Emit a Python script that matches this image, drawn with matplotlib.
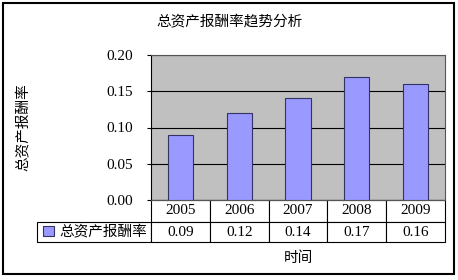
import matplotlib.pyplot as plt
from matplotlib.table import Table
from matplotlib.patches import Rectangle

# Datos del gráfico
anios = ['2005', '2006', '2007', '2008', '2009']
rentabilidad = [0.09, 0.12, 0.14, 0.17, 0.16]
ticks_y = [0.00, 0.05, 0.10, 0.15, 0.20]
serie = '总资产报酬率'
titulo = '总资产报酬率趋势分析'
eje_x = '时间'

cjk = ['Noto Sans CJK SC', 'DejaVu Sans']
num = ['Liberation Serif', 'DejaVu Serif']
fs = 10.5

fig = plt.figure(figsize=(4.58, 2.8), dpi=100)
fig.patch.set_facecolor('white')
ax = fig.add_axes([151 / 458, 1 - 200 / 280, 294 / 458, 145 / 280])
ax.set_facecolor('#C0C0C0')

x = range(len(anios))
ax.bar(x, rentabilidad, width=0.43, color='#9999FF', edgecolor='#333366',
       linewidth=0.8, zorder=3, label=serie)
ax.set_xlim(-0.5, len(anios) - 0.5)
ax.set_ylim(0, 0.20)
ax.set_yticks(ticks_y)
ax.set_yticklabels(['%.2f' % v for v in ticks_y], family=num, fontsize=11)
ax.set_xticks([])
ax.tick_params(axis='y', length=3, width=0.8, pad=10)
ax.grid(axis='y', color='black', linewidth=0.8, zorder=1)
for s in ax.spines.values():
    s.set_color('#555555')
    s.set_linewidth(0.8)
ax.spines['left'].set_color('black')

ax.set_ylabel(serie, family=cjk, fontsize=fs)
ax.yaxis.set_label_coords(-0.41, 0.5)
ax.set_xlabel(eje_x, family=cjk, fontsize=fs)
ax.xaxis.set_label_coords(0.5, -0.35)
fig.text(0.5, 1 - 22 / 280, titulo, family=cjk, fontsize=fs,
         ha='center', va='center')

# Tabla de datos bajo el eje (anchos en unidades del eje)
h0, h1 = 22 / 145, 20 / 145
w_col = 1 / len(anios)
w_lab = 114 / 294
tabla = Table(ax, bbox=[0, -(h0 + h1), 1, h0 + h1])
for j, a in enumerate(anios):
    c = tabla.add_cell(0, j, w_col, h0, text=a, loc='center')
    c.get_text().set_fontfamily(num)
    c = tabla.add_cell(1, j, w_col, h1, text='%.2f' % rentabilidad[j], loc='center')
    c.get_text().set_fontfamily(num)
tabla.add_cell(1, -1, w_lab, h1, text='')
tabla.auto_set_font_size(False)
tabla.set_fontsize(11)
for c in tabla.get_celld().values():
    c.set_linewidth(0.8)
    c.set_edgecolor('black')
    c.set_facecolor('white')
ax.add_table(tabla)

ax.legend(loc='center left', bbox_to_anchor=(-108 / 294, -32 / 145),
          frameon=False, prop={'family': cjk, 'size': fs},
          handlelength=0.75, handleheight=0.75, handletextpad=0.4,
          borderpad=0, borderaxespad=0)

# Marco exterior
fig.patches.append(Rectangle((3 / 458, 6 / 280), 451 / 458, 271 / 280,
                             transform=fig.transFigure, fill=False,
                             edgecolor='black', linewidth=1.5))

plt.savefig('out.png', dpi=100)
